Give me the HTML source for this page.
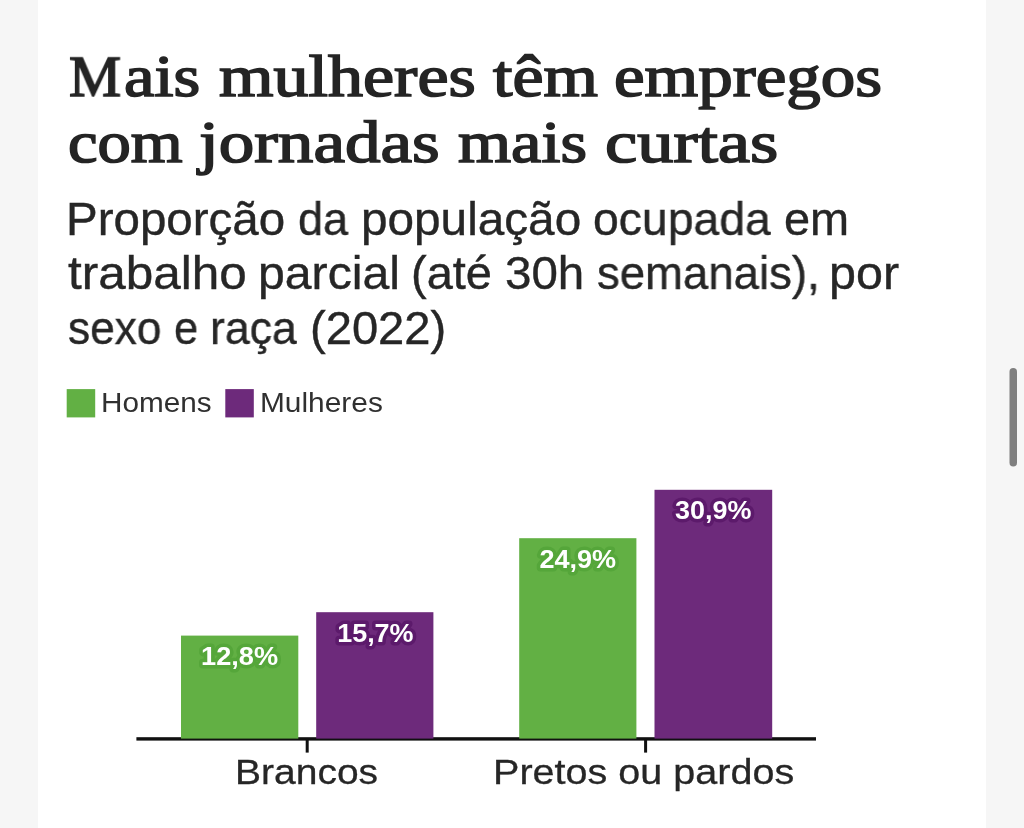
<!DOCTYPE html>
<html lang="pt-BR">
<head>
<meta charset="utf-8">
<title>Mais mulheres têm empregos com jornadas mais curtas</title>
<style>
  html, body { margin: 0; padding: 0; }
  h1, p { margin: 0; font: inherit; }
  body { width: 1024px; height: 828px; position: relative; overflow: hidden; background: #f6f6f6; font-family: "Liberation Sans", sans-serif; color: #262626; }
  .card { position: absolute; left: 38px; top: 0; width: 948px; height: 828px; background: #ffffff; }
  .t { position: absolute; white-space: nowrap; transform-origin: 0 0; line-height: 1; margin: 0; will-change: transform; }
  .title { font-family: "Liberation Serif", serif; font-weight: normal; font-size: 60px; color: #242424; -webkit-text-stroke: 1.6px #242424; }
  .sub { font-size: 46.5px; color: #262626; -webkit-text-stroke: 0.4px #262626; }
  .leg { font-size: 28px; color: #303030; }
  .ax { font-size: 35.5px; color: #262626; -webkit-text-stroke: 0.3px #262626; }
  .chart { position: absolute; left: 0; top: 0; }
  .vals { position: absolute; left: 0; top: 0; will-change: transform; }
  .vals text { font-family: "Liberation Sans", sans-serif; font-weight: bold; font-size: 26px; fill: #fff; stroke-width: 7px; stroke-linejoin: round; paint-order: stroke fill; }
  .vals text.vg { stroke: #55a63a; }
  .vals text.vp { stroke: #5c1a6b; }
</style>
</head>
<body>
<div class="card"></div>
<h1>
<span class="t title" style="left:69.20px;top:46.57px;transform:scale(0.9753,0.98)">M</span>
<span class="t title" style="left:124.03px;top:45.55px;transform:scaleX(1.1448)">ais</span>
<span class="t title" style="left:218.67px;top:45.55px;transform:scaleX(1.1675)">mulheres</span>
<span class="t title" style="left:492.73px;top:45.55px;transform:scaleX(1.1661)">têm</span>
<span class="t title" style="left:614.42px;top:45.55px;transform:scaleX(1.1490)">empregos</span>
<span class="t title" style="left:67.87px;top:111.95px;transform:scaleX(1.1102)">com</span>
<span class="t title" style="left:198.71px;top:111.95px;transform:scaleX(1.1834)">jornadas</span>
<span class="t title" style="left:457.77px;top:111.95px;transform:scaleX(1.1380)">mais</span>
<span class="t title" style="left:604.55px;top:111.95px;transform:scaleX(1.2098)">curtas</span>
</h1>
<p>
<span class="t sub" style="left:66.14px;top:195.74px;transform:scaleX(1.0211)">Proporção</span>
<span class="t sub" style="left:298.03px;top:195.74px;transform:scaleX(0.9713)">da</span>
<span class="t sub" style="left:360.52px;top:195.74px;transform:scaleX(1.0260)">população</span>
<span class="t sub" style="left:593.20px;top:195.74px;transform:scaleX(0.9969)">ocupada</span>
<span class="t sub" style="left:784.19px;top:195.74px;transform:scaleX(1.0089)">em</span>
<span class="t sub" style="left:67.80px;top:250.04px;transform:scaleX(1.0633)">trabalho</span>
<span class="t sub" style="left:258.29px;top:250.04px;transform:scaleX(1.0361)">parcial</span>
<span class="t sub" style="left:410.78px;top:250.04px;transform:scaleX(1.0096)">(até</span>
<span class="t sub" style="left:505.48px;top:250.04px;transform:scaleX(1.0214)">30h</span>
<span class="t sub" style="left:596.82px;top:250.04px;transform:scaleX(0.9793)">semanais),</span>
<span class="t sub" style="left:828.87px;top:250.04px;transform:scaleX(1.0420)">por</span>
<span class="t sub" style="left:67.65px;top:304.84px;transform:scaleX(0.9522)">sexo</span>
<span class="t sub" style="left:174.17px;top:304.84px;transform:scaleX(0.9348)">e</span>
<span class="t sub" style="left:209.92px;top:304.84px;transform:scaleX(0.9612)">raça</span>
<span class="t sub" style="left:310.37px;top:304.84px;transform:scaleX(1.0136)">(2022)</span>
</p>
<div class="legend">
<span class="t leg" style="left:100.78px;top:389.20px;transform:scaleX(1.0606)">Homens</span>
<span class="t leg" style="left:259.57px;top:389.20px;transform:scaleX(1.0664)">Mulheres</span>
</div>
<div class="xlabels">
<span class="t ax" style="left:234.70px;top:755.15px;transform:scaleX(1.0990)">Brancos</span>
<span class="t ax" style="left:492.67px;top:755.15px;transform:scaleX(1.1139)">Pretos ou pardos</span>
</div>
<svg class="chart" width="1024" height="828" viewBox="0 0 1024 828">
<rect x="136.4" y="737.2" width="679.6" height="3.4" fill="#101010"/>
<rect x="305.7" y="739" width="3" height="13.6" fill="#101010"/>
<rect x="644.1" y="739" width="3" height="13.6" fill="#101010"/>
<rect x="181" y="635.6" width="117.3" height="103" fill="#62b044"/>
<rect x="316.2" y="612.2" width="117.2" height="126.4" fill="#6d2a7b"/>
<rect x="519.2" y="538.2" width="117.2" height="200.4" fill="#62b044"/>
<rect x="654.5" y="489.8" width="117.7" height="248.8" fill="#6d2a7b"/>
<rect x="66.7" y="389.1" width="28.5" height="28.3" fill="#62b044"/>
<rect x="225.3" y="389.1" width="28.5" height="28.3" fill="#6d2a7b"/>
<rect x="1009.5" y="368" width="7.5" height="98.6" rx="3.75" fill="#7f7f7f"/>
</svg>
<svg class="vals" width="1024" height="828" viewBox="0 0 1024 828">
<text class="vg" transform="translate(201.05,665.00) scale(1.0454,1)">12,8%</text>
<text class="vp" transform="translate(337.16,641.60) scale(1.0371,1)">15,7%</text>
<text class="vg" transform="translate(539.40,567.70) scale(1.0407,1)">24,9%</text>
<text class="vp" transform="translate(675.00,519.20) scale(1.0366,1)">30,9%</text>
</svg>
</body>
</html>
